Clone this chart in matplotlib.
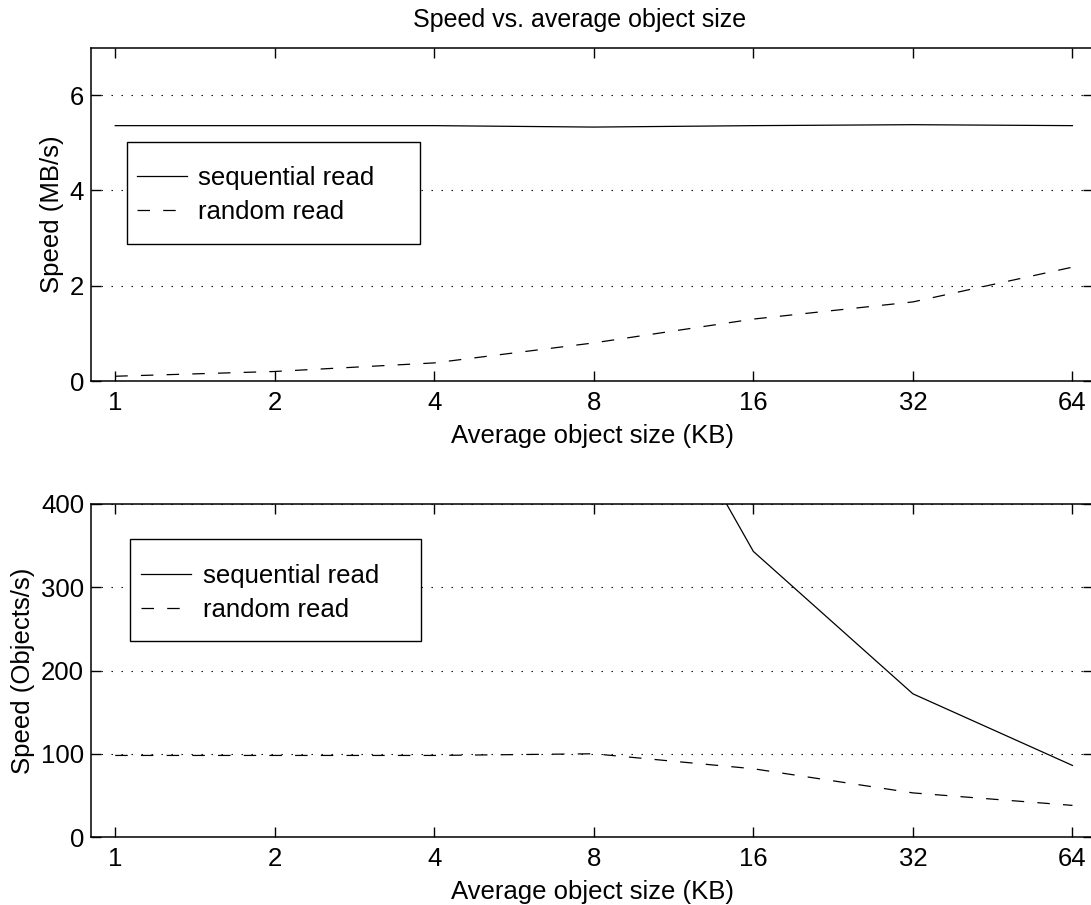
import matplotlib
matplotlib.use('Agg')
import matplotlib.pyplot as plt
from matplotlib.patches import Rectangle

plt.rcParams['font.family'] = ['Liberation Sans', 'DejaVu Sans']
plt.rcParams['lines.scale_dashes'] = False

# object sizes (KB)
sizes = [1, 2, 4, 8, 16, 32, 64]
size_labels = ['1', '2', '4', '8', '16', '32', '64']

# speed in MB/s
seq_mbs = [5.36, 5.36, 5.36, 5.33, 5.36, 5.38, 5.36]
rand_mbs = [0.10, 0.20, 0.38, 0.80, 1.30, 1.66, 2.39]

# speed in objects/s (top values are off the chart)
seq_objs = [5490, 2745, 1372, 682, 343, 172, 86]
rand_objs = [98, 98, 98, 100, 82, 53, 38]

fs = 18.5
dash = (0, (9, 9.5))
grid_dots = (0, (1, 6.2))

fig = plt.figure(figsize=(10.91, 9.05), dpi=100)
ax1 = fig.add_axes([0.0834, 0.579, 0.9185, 0.3685])
ax2 = fig.add_axes([0.0834, 0.0751, 0.9185, 0.368])


def style(ax, ylim, yticks):
    ax.set_xscale('log', base=2)
    ax.set_xlim(0.9, 70)
    ax.set_ylim(*ylim)
    ax.set_xticks(sizes)
    ax.set_xticklabels(size_labels)
    ax.minorticks_off()
    ax.set_yticks(yticks)
    ax.tick_params(direction='in', length=7, width=1, top=True, right=True,
                   labelsize=fs, colors='black')
    ax.tick_params(axis='x', pad=7)
    ax.tick_params(axis='y', pad=5)
    for s in ax.spines.values():
        s.set_linewidth(1.1)
    ax.yaxis.grid(True, linestyle=grid_dots, color='black', linewidth=0.8)
    ax.set_axisbelow(True)
    ax.set_xlabel('Average object size (KB)', fontsize=fs, labelpad=7)


def legend_box(ax, anchor, box):
    # matlab-style legend: plain box with more room above/below than at the sides
    ax.legend(loc='upper left', bbox_to_anchor=anchor, borderaxespad=0, borderpad=0,
              fontsize=fs, frameon=False, handlelength=1.95, handletextpad=0.45,
              labelspacing=0.4)
    ax.add_patch(Rectangle(box[:2], box[2], box[3], transform=ax.transAxes,
                           facecolor='white', edgecolor='black', linewidth=1.0,
                           zorder=4))
    ax.get_legend().set_zorder(5)


ax1.plot(sizes, seq_mbs, color='black', linewidth=0.9, label='sequential read')
ax1.plot(sizes, rand_mbs, color='black', linewidth=0.9, linestyle=dash, label='random read')
style(ax1, (0, 7), [0, 2, 4, 6])
ax1.set_ylabel('Speed (MB/s)', fontsize=fs, labelpad=4)
ax1.set_title('Speed vs. average object size', fontsize=18, pad=15, x=0.488)
legend_box(ax1, (0.0456, 0.6447), (0.036, 0.412, 0.292, 0.305))

ax2.plot(sizes, seq_objs, color='black', linewidth=0.9, label='sequential read')
ax2.plot(sizes, rand_objs, color='black', linewidth=0.9, linestyle=dash, label='random read')
style(ax2, (0, 400), [0, 100, 200, 300, 400])
ax2.set_ylabel('Speed (Objects/s)', fontsize=fs, labelpad=4)
legend_box(ax2, (0.0498, 0.8213), (0.039, 0.59, 0.2906, 0.305))

fig.savefig('out.png', dpi=100)
